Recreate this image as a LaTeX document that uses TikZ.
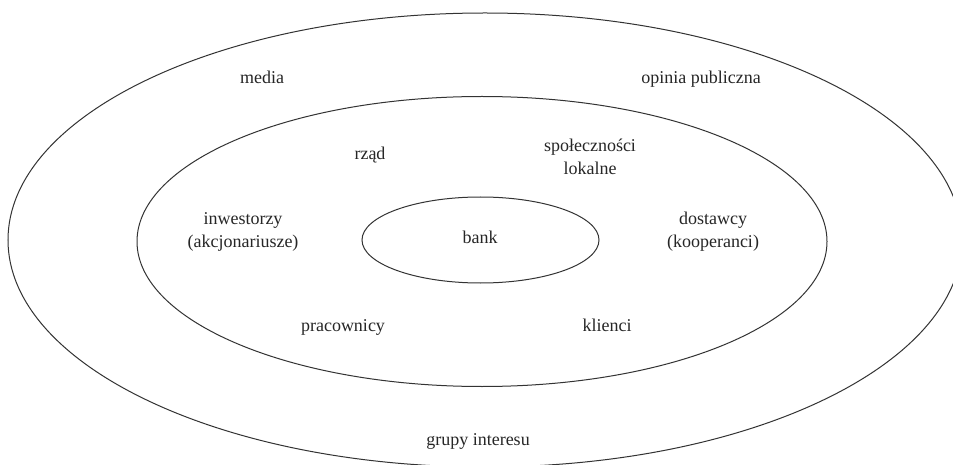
\documentclass[tikz,border=0pt]{standalone}
\usepackage{fontspec}
\setmainfont{Liberation Serif}
\begin{document}
\begin{tikzpicture}[x=1pt,y=1pt,
  ring/.style={draw=black!80,line width=1pt},
  lbl/.style={font=\fontsize{18}{23}\selectfont,align=center,anchor=base,inner sep=0pt,text=black!85}]
\useasboundingbox (0,0) rectangle (953,464);
\clip (0,0) rectangle (953,464);
\fill[white] (0,0) rectangle (953,464);
\draw[ring] (485,224) ellipse [x radius=477, y radius=227];
\draw[ring] (482,222.5) ellipse [x radius=345, y radius=145];
\draw[ring] (480.5,224) ellipse [x radius=118.5, y radius=43];
\node[lbl] (media) at (262,380) {media};
\node[lbl] (opinia) at (701,380) {opinia publiczna};
\node[lbl] (rzad) at (370,304) {rząd};
\node[lbl] (spol) at (590,289) {społeczności\\lokalne};
\node[lbl] (inw) at (243,216) {inwestorzy\\(akcjonariusze)};
\node[lbl] (dost) at (713,216) {dostawcy\\(kooperanci)};
\node[lbl] (bank) at (480,220) {bank};
\node[lbl] (prac) at (343,133) {pracownicy};
\node[lbl] (klienci) at (607,133) {klienci};
\node[lbl] (grupy) at (478,19) {grupy interesu};
\end{tikzpicture}
\end{document}
